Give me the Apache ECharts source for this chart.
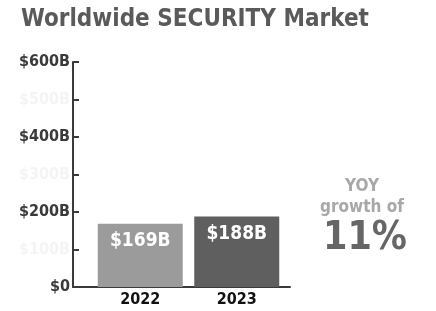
<!DOCTYPE html>
<html><head><meta charset="utf-8">
<script src="https://cdn.jsdelivr.net/npm/echarts@6/dist/echarts.min.js"></script>
<style>html,body{margin:0;padding:0;background:#fff}#c{width:436px;height:311px}</style>
</head><body><div id="c"></div>
<script>
const categories = ['2022', '2023'];
const values = [169, 188];
const barLabels = ['$169B', '$188B'];
const tickLabels = {0: '$0', 100: '$100B', 200: '$200B', 300: '$300B', 400: '$400B', 500: '$500B', 600: '$600B'};
const growthText = ['YOY', 'growth of', '11%'];
const barColors = ['#9b9b9b', '#5f5f5f'];

const chart = echarts.init(document.getElementById('c'));
const F = '"DejaVu Sans Condensed", "DejaVu Sans", sans-serif';
chart.setOption({
  animation: false,
  title: [
    {text: 'Worldwide SECURITY Market', left: 16, top: 3,
     textStyle: {fontFamily: F, fontSize: 24, fontWeight: 'bold', color: '#5a5a5a'}},
    {text: growthText[0] + '\n' + growthText[1], left: 357, top: 171, textAlign: 'center',
     textStyle: {fontFamily: F, fontSize: 17, fontWeight: 'bold', color: '#a8a8a8', lineHeight: 21}},
    {text: growthText[2], left: 360, top: 214, textAlign: 'center',
     textStyle: {fontFamily: F, fontSize: 39, fontWeight: 'bold', color: '#666'}}
  ],
  grid: [
    {left: 73, top: 62, width: 217, height: 225},
    {left: 92, top: 62, width: 193, height: 225}
  ],
  xAxis: [
    {gridIndex: 0, type: 'value', min: 0, max: 1, axisLine: {show: true, onZero: false, lineStyle: {color: '#3a3a3a', width: 2}},
     axisTick: {show: false}, axisLabel: {show: false}, splitLine: {show: false}},
    {gridIndex: 1, type: 'category', data: categories, axisLine: {show: false}, axisTick: {show: false},
     axisLabel: {fontFamily: F, fontSize: 16, fontWeight: 'bold', color: '#111', margin: 5}}
  ],
  yAxis: [
    {gridIndex: 0, type: 'value', min: 0, max: 600, interval: 100,
     axisLine: {show: true, lineStyle: {color: '#3a3a3a', width: 2}},
     axisTick: {show: true, inside: true, length: 6, lineStyle: {color: '#3a3a3a', width: 2}},
     splitLine: {show: false},
     axisLabel: {margin: 3, fontFamily: F, fontSize: 16, fontWeight: 'bold', color: '#3a3a3a',
       formatter: v => (v % 200 === 0) ? tickLabels[v] : '{f|' + tickLabels[v] + '}',
       rich: {f: {color: '#f4f4f4', fontFamily: F, fontSize: 16, fontWeight: 'bold'}}}},
    {gridIndex: 1, type: 'value', min: 0, max: 600, show: false}
  ],
  series: [{
    type: 'bar', xAxisIndex: 1, yAxisIndex: 1, barWidth: 85,
    data: values.map((v, i) => ({value: v, itemStyle: {color: barColors[i]},
      label: {formatter: barLabels[i]}})),
    label: {show: true, position: 'insideTop', distance: 8, fontFamily: F, fontSize: 19,
      fontWeight: 'bold', color: '#fff'}
  }]
});
</script></body></html>
